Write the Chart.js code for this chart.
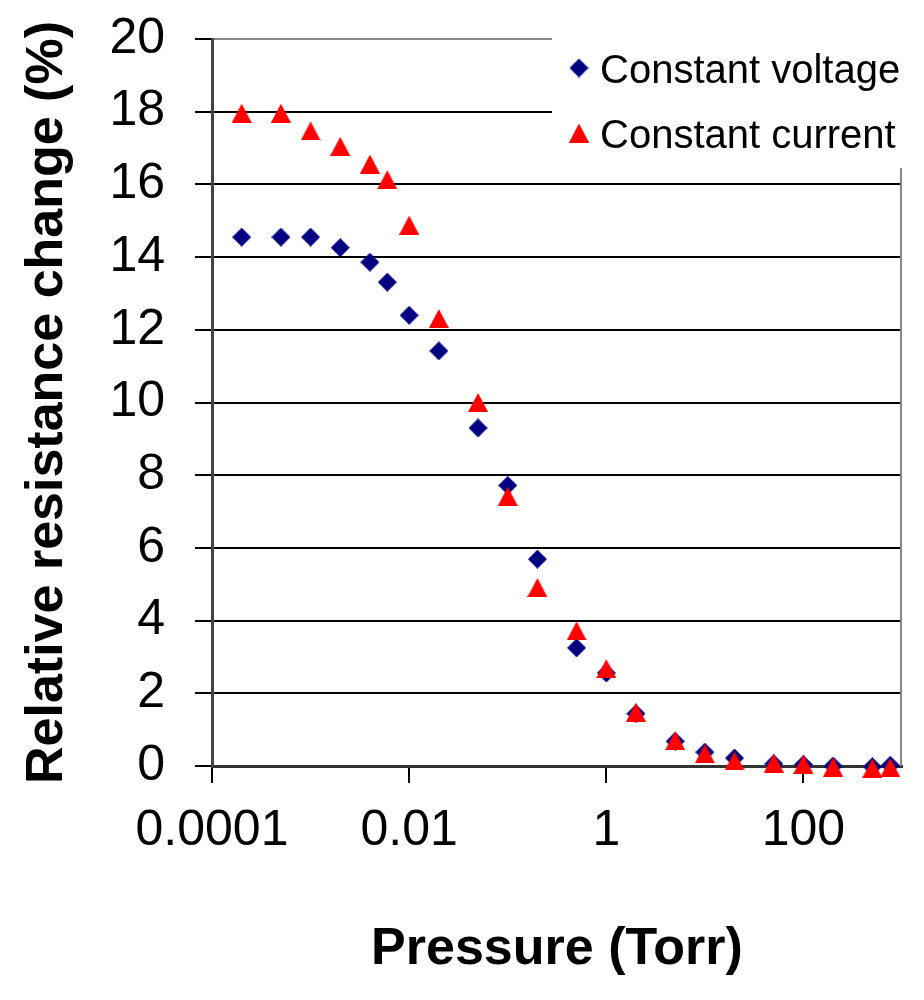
<!DOCTYPE html>
<html>
<head>
<meta charset="utf-8">
<script src="https://cdn.jsdelivr.net/npm/chart.js@4.4.0/dist/chart.umd.min.js"></script>
<style>
  html, body { margin: 0; padding: 0; background: #fff; }
  #chart { display: block; }
</style>
</head>
<body>
<canvas id="chart" width="924" height="1000"></canvas>
<script>
// Data
var pressure = [0.0002, 0.0005, 0.001, 0.002, 0.004, 0.006, 0.01, 0.02, 0.05, 0.1, 0.2, 0.5, 1, 2, 5, 10, 20, 50, 100, 200, 500, 760];
var voltageChange = [14.55, 14.55, 14.55, 14.26, 13.86, 13.31, 12.40, 11.42, 9.30, 7.72, 5.69, 3.25, 2.56, 1.44, 0.68, 0.38, 0.22, 0.06, 0.04, 0.0, -0.02, 0.02];
var currentChange = [17.96, 17.96, 17.47, 17.05, 16.56, 16.13, 14.88, 12.31, 10.0, 7.42, 4.91, 3.72, 2.68, 1.48, 0.70, 0.34, 0.14, 0.08, 0.05, -0.03, -0.06, -0.04];
var seriesNames = ["Constant voltage", "Constant current"];
var xTickValues = [0.0001, 0.01, 1, 100];
var xTickLabels = ["0.0001", "0.01", "1", "100"];

var FONT = "'Liberation Sans', Arial, sans-serif";

// Excel-like marker shapes
function makeMarker(shape, w, h, color) {
  var c = document.createElement("canvas");
  c.width = w;
  c.height = h;
  var g = c.getContext("2d");
  g.fillStyle = color;
  g.beginPath();
  if (shape === "diamond") {
    g.moveTo(w / 2, 0);
    g.lineTo(w, h / 2);
    g.lineTo(w / 2, h);
    g.lineTo(0, h / 2);
  } else {
    g.moveTo(w / 2, 0);
    g.lineTo(w, h);
    g.lineTo(0, h);
  }
  g.closePath();
  g.fill();
  return c;
}
var diamond = makeMarker("diamond", 19, 19, "#000080");
var triangle = makeMarker("triangle", 20, 19, "#ff0000");

function toPoints(xs, ys) {
  var out = [];
  for (var i = 0; i < xs.length; i++) {
    out.push({ x: xs[i], y: ys[i] });
  }
  return out;
}

// right border + legend box on top of the plot
var frameAndLegend = {
  id: "frameAndLegend",
  beforeDatasetsDraw: function (chart) {
    var a = chart.chartArea;
    var ctx = chart.ctx;
    ctx.save();
    ctx.strokeStyle = "#888";
    ctx.lineWidth = 2;
    ctx.beginPath();
    ctx.moveTo(a.right - 1, a.top);
    ctx.lineTo(a.right - 1, a.bottom);
    ctx.stroke();
    ctx.restore();
  },
  afterDraw: function (chart) {
    var a = chart.chartArea;
    var ctx = chart.ctx;
    var boxLeft = a.left + 340;
    var boxBottom = a.top + 129;
    ctx.save();
    ctx.fillStyle = "#fff";
    ctx.fillRect(boxLeft, 0, chart.width - boxLeft, boxBottom);
    ctx.font = "40px " + FONT;
    ctx.fillStyle = "#000";
    ctx.textAlign = "left";
    ctx.textBaseline = "alphabetic";
    var rows = [68, 133];
    chart.data.datasets.forEach(function (ds, i) {
      var img = ds.pointStyle;
      ctx.drawImage(img, 579 - img.width / 2, rows[i] - img.height / 2);
      ctx.fillText(ds.label, 600, rows[i] + 15);
    });
    ctx.restore();
  }
};

new Chart(document.getElementById("chart"), {
  type: "scatter",
  data: {
    datasets: [
      {
        label: seriesNames[0],
        data: toPoints(pressure, voltageChange),
        pointStyle: diamond,
        pointRadius: 9,
        backgroundColor: "#000080",
        borderColor: "#000080",
        order: 1,
        clip: false
      },
      {
        label: seriesNames[1],
        data: toPoints(pressure, currentChange),
        pointStyle: triangle,
        pointRadius: 10,
        backgroundColor: "#ff0000",
        borderColor: "#ff0000",
        order: 0,
        clip: false
      }
    ]
  },
  options: {
    responsive: false,
    animation: false,
    events: [],
    layout: { padding: { top: 39, right: 22, left: 0, bottom: 0 } },
    plugins: {
      legend: { display: false },
      tooltip: { enabled: false }
    },
    scales: {
      x: {
        type: "logarithmic",
        min: 0.0001,
        max: 1000,
        afterBuildTicks: function (scale) {
          scale.ticks = xTickValues.map(function (v) { return { value: v }; });
        },
        afterFit: function (scale) {
          scale.height = 234;
          scale.paddingLeft = 0;
          scale.paddingRight = 0;
        },
        ticks: {
          autoSkip: false,
          maxRotation: 0,
          padding: 18,
          color: "#000",
          font: { family: FONT, size: 50 },
          callback: function (value) {
            var i = xTickValues.indexOf(value);
            return i >= 0 ? xTickLabels[i] : "";
          }
        },
        grid: {
          drawOnChartArea: false,
          drawTicks: true,
          tickLength: 17,
          tickColor: "#000",
          lineWidth: 2
        },
        border: { display: true, color: "#333", width: 3 },
        title: {
          display: true,
          text: "Pressure (Torr)",
          color: "#000",
          font: { family: FONT, size: 52, weight: "bold" },
          padding: { top: 0, bottom: 19 }
        }
      },
      y: {
        min: 0,
        max: 20,
        afterFit: function (scale) {
          scale.width = 212;
          scale.paddingTop = 0;
          scale.paddingBottom = 0;
        },
        ticks: {
          stepSize: 2,
          padding: 30,
          color: "#000",
          font: { family: FONT, size: 50 }
        },
        grid: {
          color: function (ctx) {
            return ctx.tick && ctx.tick.value === 20 ? "#888" : "#000";
          },
          tickColor: "#000",
          lineWidth: 2,
          tickLength: 17
        },
        border: { display: true, color: "#444", width: 3 },
        title: {
          display: true,
          text: "Relative resistance change (%)",
          color: "#000",
          font: { family: FONT, size: 52, weight: "bold" },
          padding: { top: 16, bottom: 0 }
        }
      }
    }
  },
  plugins: [frameAndLegend]
});
</script>
</body>
</html>
